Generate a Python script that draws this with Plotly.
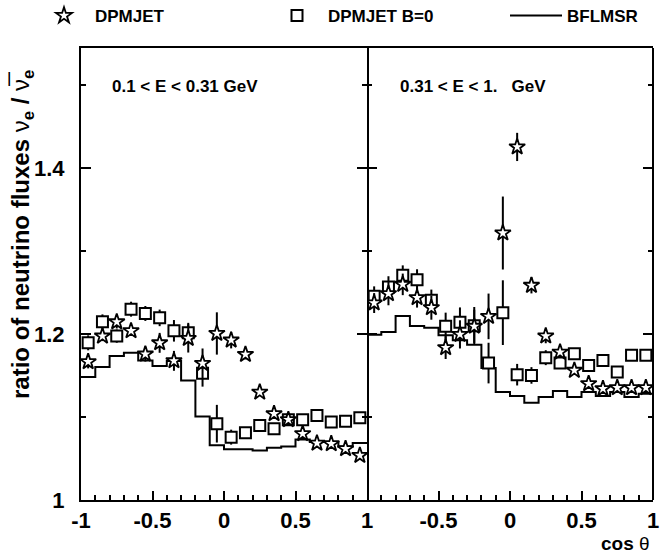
import plotly.graph_objects as go

# bin centres / edges in cos(theta)
cos_theta = [-0.95, -0.85, -0.75, -0.65, -0.55, -0.45, -0.35, -0.25, -0.15, -0.05,
             0.05, 0.15, 0.25, 0.35, 0.45, 0.55, 0.65, 0.75, 0.85, 0.95]
bin_edges = [-1.0, -0.9, -0.8, -0.7, -0.6, -0.5, -0.4, -0.3, -0.2, -0.1, 0.0,
             0.1, 0.2, 0.3, 0.4, 0.5, 0.6, 0.7, 0.8, 0.9, 1.0]

# ---- panel 1 : 0.1 < E < 0.31 GeV ----
dpm_lo = [1.1667, 1.1976, 1.2148, 1.2040, 1.1759, 1.1895, 1.1678, 1.1948, 1.1647, 1.2008,
          1.1928, 1.1755, 1.1300, 1.1040, 1.0968, 1.0799, 1.0685, 1.0678, 1.0618, 1.0537]
dpm_lo_err = [0.008, 0.006, 0.008, 0.006, 0.009, 0.012, 0.012, 0.017, 0.018, 0.0255,
              0.010, 0.006, 0.004, 0.004, 0.004, 0.004, 0.004, 0.004, 0.004, 0.004]
b0_lo = [1.1895, 1.2148, 1.1976, 1.2301, 1.2249, 1.2196, 1.2040, 1.2016, 1.1527, 1.0920,
         1.0758, 1.0810, 1.0899, 1.0859, 1.0968, 1.0968, 1.1020, 1.0939, 1.0951, 1.0992]
b0_lo_err = [0.009, 0.009, 0.008, 0.009, 0.009, 0.010, 0.013, 0.012, 0.016, 0.0227,
             0.009, 0.006, 0.006, 0.006, 0.006, 0.006, 0.006, 0.006, 0.006, 0.006]
bfl_lo = [1.1482, 1.1603, 1.1736, 1.1776, 1.1683, 1.1615, 1.1675, 1.1442, 1.1008, 1.0660,
          1.0613, 1.0613, 1.0597, 1.0630, 1.0646, 1.0730, 1.0698, 1.0698, 1.0646, 1.0686]

# ---- panel 2 : 0.31 < E < 1 GeV ----
dpm_hi = [1.2375, 1.2488, 1.2600, 1.2440, 1.2319, 1.1837, 1.1997, 1.2094, 1.2214, 1.3219,
          1.4257, 1.2588, 1.1977, 1.1783, 1.1563, 1.1402, 1.1342, 1.1354, 1.1354, 1.1354]
dpm_hi_err = [0.012, 0.014, 0.013, 0.012, 0.0145, 0.0137, 0.017, 0.020, 0.0275, 0.044,
              0.017, 0.0097, 0.0087, 0.006, 0.005, 0.005, 0.005, 0.005, 0.005, 0.005]
b0_hi = [1.2456, 1.2568, 1.2709, 1.2657, 1.2407, 1.2094, 1.2142, 1.2102, 1.1651, 1.2259,
         1.1511, 1.1502, 1.1716, 1.1651, 1.1762, 1.1623, 1.1683, 1.1542, 1.1744, 1.1744]
b0_hi_err = [0.012, 0.013, 0.012, 0.0125, 0.013, 0.0165, 0.018, 0.0225, 0.0245, 0.039,
             0.013, 0.010, 0.009, 0.006, 0.005, 0.005, 0.005, 0.005, 0.005, 0.005]
bfl_hi = [1.1993, 1.2025, 1.2218, 1.2097, 1.2077, 1.1985, 1.1925, 1.1872, 1.1591, 1.1301,
          1.1253, 1.1172, 1.1241, 1.1313, 1.1241, 1.1301, 1.1253, 1.1301, 1.1241, 1.1281]

FONT = "Liberation Sans, Arial, Helvetica, sans-serif"

fig = go.Figure()

panels = [
    ("x", "y", dpm_lo, dpm_lo_err, b0_lo, b0_lo_err, bfl_lo, True),
    ("x2", "y2", dpm_hi, dpm_hi_err, b0_hi, b0_hi_err, bfl_hi, False),
]
for xa, ya, dpm, dpm_e, b0, b0_e, bfl, show in panels:
    fig.add_trace(go.Scatter(
        x=bin_edges, y=bfl + [bfl[-1]], mode="lines", line_shape="hv",
        line=dict(color="black", width=2), name="BFLMSR",
        xaxis=xa, yaxis=ya, showlegend=show, legend="legend3"))
    fig.add_trace(go.Scatter(
        x=cos_theta, y=b0, mode="markers", name="DPMJET B=0",
        marker=dict(symbol="square", size=11, color="white",
                    line=dict(color="black", width=2)),
        error_y=dict(type="data", array=b0_e, color="black", thickness=2, width=0),
        xaxis=xa, yaxis=ya, showlegend=show, legend="legend2"))
    fig.add_trace(go.Scatter(
        x=cos_theta, y=dpm, mode="markers", name="DPMJET",
        marker=dict(symbol="star", size=12, color="white",
                    line=dict(color="black", width=1.8)),
        error_y=dict(type="data", array=dpm_e, color="black", thickness=2, width=0),
        xaxis=xa, yaxis=ya, showlegend=show, legend="legend"))

tickfont = dict(family=FONT, size=22, color="black", weight="bold")
xcommon = dict(range=[-1, 1], showline=True, linecolor="black", linewidth=2,
               mirror=True, ticks="inside", ticklen=9, tickwidth=1.5,
               tickcolor="black", showgrid=False, zeroline=False,
               tickfont=tickfont, tickvals=[-1, -0.5, 0, 0.5, 1],
               minor=dict(dtick=0.1, tick0=-1, ticks="inside", ticklen=5,
                          tickwidth=1.5, tickcolor="black", showgrid=False))
ycommon = dict(range=[1, 1.545], linecolor="black", linewidth=2,
               mirror="ticks", ticks="inside", ticklen=10, tickwidth=1.5,
               tickcolor="black", showgrid=False, zeroline=False,
               tickfont=tickfont, tickvals=[1, 1.2, 1.4], ticktext=["1", "1.2", "1.4"],
               ticklabelstandoff=10,
               minor=dict(dtick=0.1, tick0=1, ticks="inside", ticklen=5,
                          tickwidth=1.5, tickcolor="black", showgrid=False))

fig.update_layout(
    width=669, height=554,
    margin=dict(l=81, r=16, t=48, b=54, autoexpand=False),
    paper_bgcolor="white", plot_bgcolor="white",
    font=dict(family=FONT, color="black"),
    xaxis=dict(domain=[0, 0.5], anchor="y", **xcommon,
               ticktext=["-1", "-0.5", "0", "0.5", "1"]),
    xaxis2=dict(domain=[0.5, 1], anchor="y2", **xcommon,
                ticktext=["", "-0.5", "0", "0.5", "1"]),
    yaxis=dict(domain=[0, 1], anchor="x", showline=True, **ycommon),
    yaxis2=dict(domain=[0, 1], anchor="x2", showline=False, **ycommon,
                showticklabels=False),
)
# right-hand frame edge of the second panel
fig.add_shape(type="line", xref="paper", yref="paper", x0=1, x1=1, y0=0, y1=1,
              line=dict(color="black", width=2))

legfont = dict(family=FONT, size=17, color="black", weight="bold")
LY = (500 - 16) / 452
fig.update_layout(
    legend=dict(x=(33 - 81) / 572, y=LY, xanchor="left", yanchor="middle",
                font=legfont, bgcolor="rgba(0,0,0,0)", itemwidth=52),
    legend2=dict(x=(266 - 81) / 572, y=LY, xanchor="left", yanchor="middle",
                 font=legfont, bgcolor="rgba(0,0,0,0)", itemwidth=52),
    legend3=dict(x=(505 - 81) / 572, y=LY, xanchor="left", yanchor="middle",
                 font=legfont, bgcolor="rgba(0,0,0,0)", itemwidth=52),
)

annfont = dict(family=FONT, size=17, color="black", weight="bold")
fig.add_annotation(text="0.1 < E < 0.31 GeV", xref="paper", yref="paper",
                   x=(110 - 81) / 572, y=(500 - 87) / 452, xanchor="left", yanchor="middle",
                   showarrow=False, font=annfont)
fig.add_annotation(text="0.31 < E < 1.   GeV", xref="paper", yref="paper",
                   x=(398 - 81) / 572, y=(500 - 87) / 452, xanchor="left", yanchor="middle",
                   showarrow=False, font=annfont)
fig.add_annotation(text="cos <span style='font-weight:normal'>θ</span>", xref="paper", yref="paper",
                   x=(652 - 81) / 572, y=(500 - 543) / 452, xanchor="right", yanchor="middle",
                   showarrow=False, font=dict(family=FONT, size=19, color="black", weight="bold"))
fig.add_annotation(
    text="ratio of neutrino fluxes <span style='font-weight:normal'>ν</span><sub>e</sub> / "
         "<span style='font-weight:normal'>ν\u0305</span><sub>e</sub>",
    xref="paper", yref="paper", x=(22 - 81) / 572, y=(500 - 235) / 452,
    xanchor="center", yanchor="middle", textangle=-90, showarrow=False,
    font=dict(family=FONT, size=24, color="black", weight="bold"))

fig.write_html("out.html")
